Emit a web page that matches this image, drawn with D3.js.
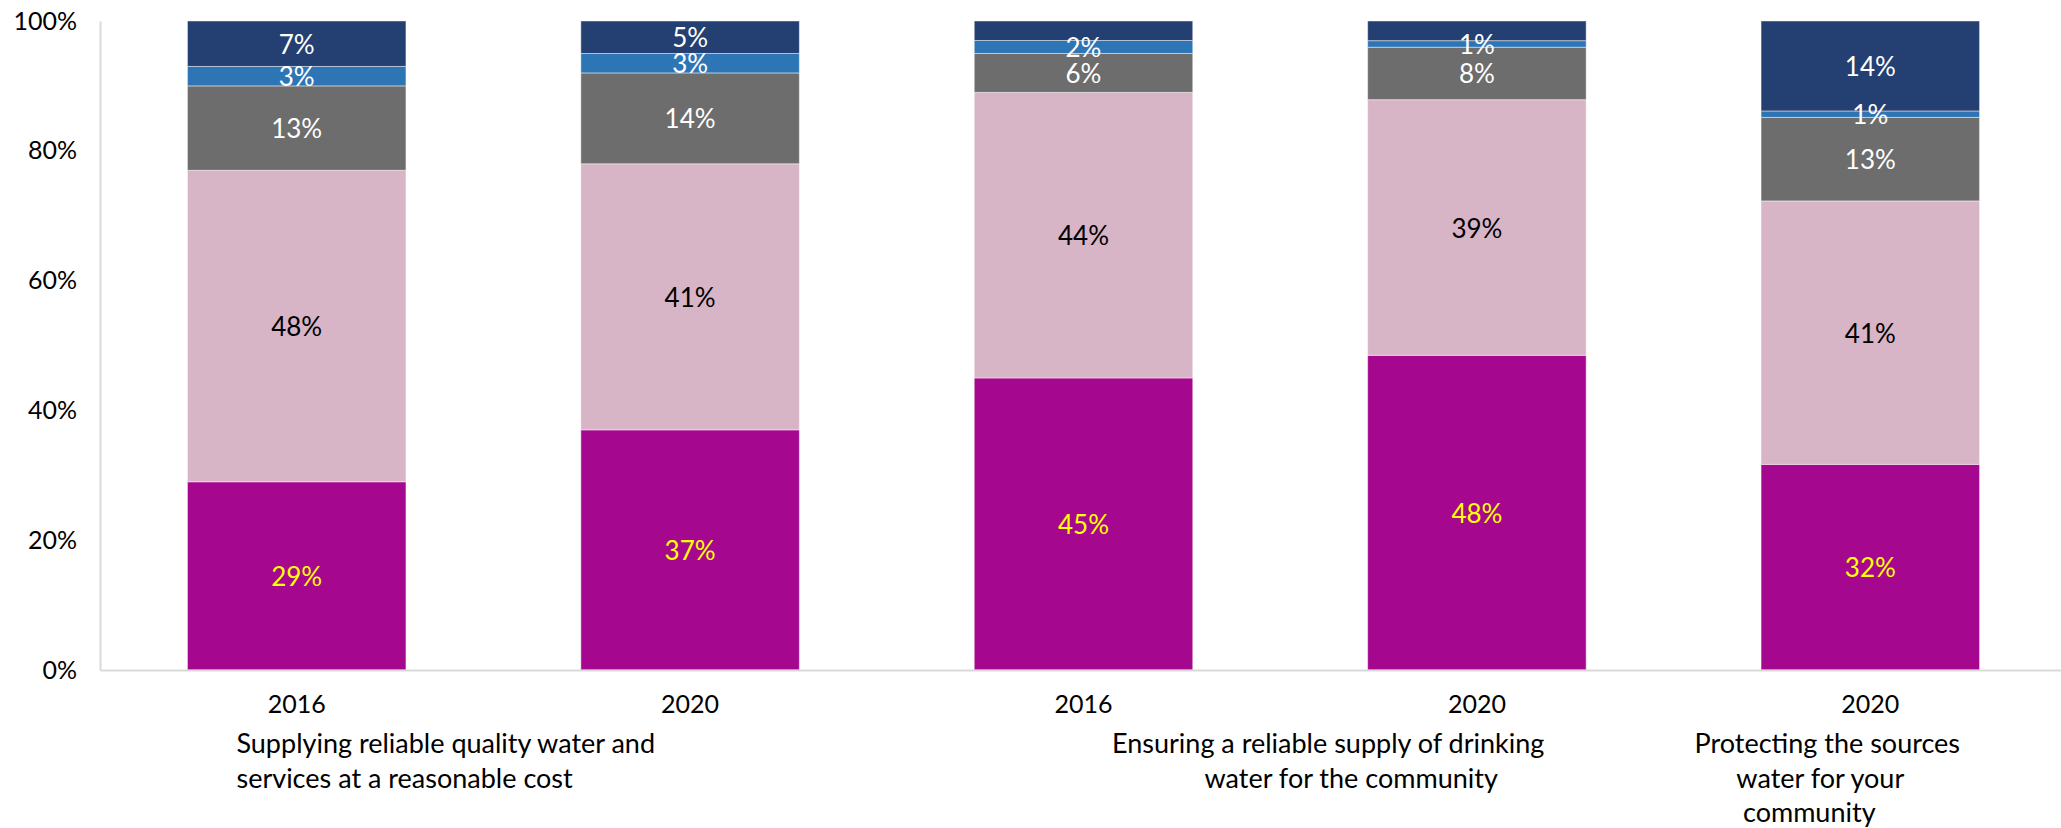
<!DOCTYPE html>
<html>
<head>
<meta charset="utf-8">
<script src="https://cdn.jsdelivr.net/npm/d3@7"></script>
<style>
  html, body { margin: 0; padding: 0; background: #ffffff; }
  svg { display: block; }
</style>
</head>
<body>
<svg id="chart" width="2061" height="828"></svg>
<script>
// Survey years shown under each bar
const years = ["2016", "2020", "2016", "2020", "2020"];

// Rating shares per bar (percent), bottom of the stack first
const rating1 = [29, 37, 45, 48, 32];
const rating2 = [48, 41, 44, 39, 41];
const rating3 = [13, 14, 6, 8, 13];
const rating4 = [3, 3, 2, 1, 1];
const rating5 = [7, 5, 3, 3, 14];

// Top segment of the two middle bars carries no value label
const rating5Labelled = [true, true, false, false, true];

// Service statements, each covering a run of bars
const statements = [
  ["Supplying reliable quality water and", "services at a reasonable cost"],
  ["Ensuring a reliable supply of drinking", "water for the community"],
  ["Protecting the sources", "water for your", "community"]
];
const statementBars = [[0, 1], [2, 3], [4]];

// Y axis tick values
const yTicks = [0, 0.2, 0.4, 0.6, 0.8, 1.0];

const seriesKeys = ["rating1", "rating2", "rating3", "rating4", "rating5"];
const seriesValues = { rating1, rating2, rating3, rating4, rating5 };
const colors = {
  rating1: "#A5088F",
  rating2: "#D7B4C6",
  rating3: "#6D6D6D",
  rating4: "#2E75B6",
  rating5: "#243F71"
};
const labelColors = {
  rating1: "#FFFF00",
  rating2: "#000000",
  rating3: "#FFFFFF",
  rating4: "#FFFFFF",
  rating5: "#FFFFFF"
};
const labelShown = {
  rating1: years.map(() => true),
  rating2: years.map(() => true),
  rating3: years.map(() => true),
  rating4: years.map(() => true),
  rating5: rating5Labelled
};

const rows = years.map((yr, i) => {
  const r = { idx: i, year: yr };
  seriesKeys.forEach(k => { r[k] = seriesValues[k][i]; });
  return r;
});

const svg = d3.select("#chart");
const plotLeft = 100, plotBottom = 670, plotTop = 21;

const x = d3.scaleBand()
  .domain(rows.map(d => d.idx))
  .range([plotLeft, 2067])
  .paddingInner(0.4446)
  .paddingOuter(0.2223);

const y = d3.scaleLinear().domain([0, 1]).range([plotBottom, plotTop]);

const stack = d3.stack().keys(seriesKeys).offset(d3.stackOffsetExpand);
const layers = stack(rows);

// Stacked bars
const g = svg.append("g");
layers.forEach(layer => {
  const key = layer.key;
  g.selectAll(null)
    .data(layer)
    .join("rect")
    .attr("x", d => x(d.data.idx))
    .attr("width", x.bandwidth())
    .attr("y", d => y(d[1]))
    .attr("height", d => y(d[0]) - y(d[1]))
    .attr("fill", colors[key])
    .attr("stroke", "rgba(255,255,255,0.45)")
    .attr("stroke-width", 1);
});

// Value labels centred in each segment
layers.forEach(layer => {
  const key = layer.key;
  g.selectAll(null)
    .data(layer.filter(d => labelShown[key][d.data.idx]))
    .join("text")
    .attr("x", d => x(d.data.idx) + x.bandwidth() / 2)
    .attr("y", d => (y(d[0]) + y(d[1])) / 2)
    .attr("text-anchor", "middle")
    .attr("dominant-baseline", "central")
    .attr("font-family", "Lato, 'DejaVu Sans', sans-serif")
    .attr("font-size", 26)
    .attr("fill", labelColors[key])
    .text(d => d.data[key] + "%");
});

// Left axis
const yAxis = svg.append("g")
  .attr("transform", `translate(${plotLeft},0)`)
  .call(d3.axisLeft(y).tickValues(yTicks).tickFormat(d3.format(".0%")).tickSize(0).tickPadding(23));
yAxis.select(".domain").attr("stroke", "#D9D9D9").attr("stroke-width", 2);
yAxis.selectAll("text")
  .attr("font-family", "Lato, 'DejaVu Sans', sans-serif")
  .attr("font-size", 25)
  .attr("fill", "#000000");

// Bottom axis with year labels
const xAxis = svg.append("g")
  .attr("transform", `translate(0,${plotBottom})`)
  .call(d3.axisBottom(x).tickFormat(i => years[i]).tickSize(0).tickSizeOuter(0).tickPadding(25));
xAxis.select(".domain").attr("stroke", "#D9D9D9").attr("stroke-width", 2);
xAxis.selectAll("text")
  .attr("font-family", "Lato, 'DejaVu Sans', sans-serif")
  .attr("font-size", 25)
  .attr("fill", "#000000");

// Statement labels under each group of bars
const statementLayout = [
  { anchor: "start", ref: "left", dx: [49, 49] },
  { anchor: "middle", ref: "center", dx: [48, 71] },
  { anchor: "middle", ref: "center", dx: [-43, -50, -61] }
];
const lineY = [742, 777, 811];

statements.forEach((lines, gi) => {
  const bars = statementBars[gi];
  const lay = statementLayout[gi];
  const first = x(bars[0]);
  const last = x(bars[bars.length - 1]) + x.bandwidth();
  const baseX = lay.ref === "left" ? first : (first + last) / 2;
  lines.forEach((line, li) => {
    svg.append("text")
      .attr("x", baseX + lay.dx[li])
      .attr("y", lineY[li])
      .attr("text-anchor", lay.anchor)
      .attr("dominant-baseline", "central")
      .attr("font-family", "Lato, 'Open Sans', sans-serif")
      .attr("font-size", 27)
      .attr("fill", "#000000")
      .text(line);
  });
});
</script>
</body>
</html>
